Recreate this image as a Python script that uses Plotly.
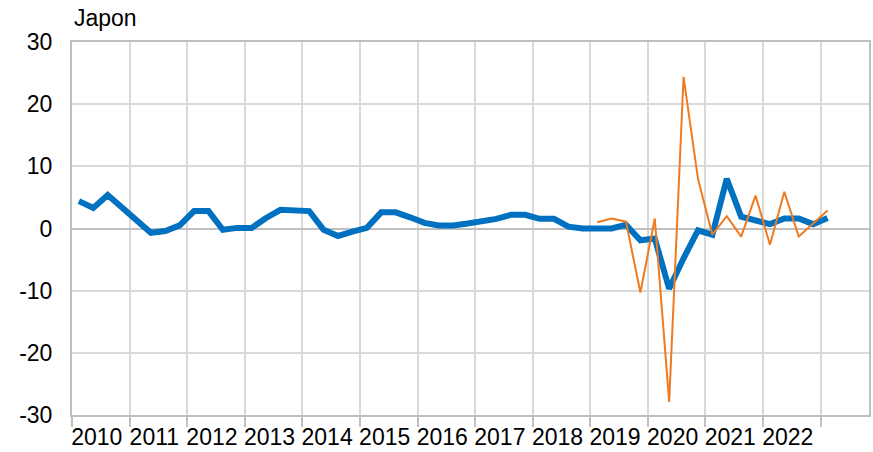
import plotly.graph_objects as go

years = list(range(2010, 2024))
year_labels = [str(y) for y in range(2010, 2023)]
y_ticks = [-30, -20, -10, 0, 10, 20, 30]
y_labels = ["-30", "-20", "-10", "0", "10", "20", "30"]

quarters = [f"{y}Q{q}" for y in range(2010, 2023) for q in range(1, 5)] + ["2023Q1"]

blue_values = [
    4.4, 3.3, 5.4, 3.4,
    1.2, -0.7, -0.4, 0.5,
    2.8, 2.8, -0.2, 0.1,
    0.1, 1.7, 3.0, 3.0,
    2.8, -0.2, -1.2, -0.5,
    0.1, 2.6, 2.6, 1.8,
    0.9, 0.5, 0.5, 0.8,
    1.2, 1.55, 2.2, 2.2,
    1.55, 1.55, 0.3, 0.0,
    0.0, 0.0, 0.6, -1.9,
    -1.6, -9.7, -4.8, -0.3,
    -1.0, 8.0, 1.9, 1.3,
    0.7, 1.6, 1.6, 0.7,
    1.7,
]

orange_quarters = quarters[quarters.index("2019Q1"):]
orange_values = [1.0, 1.6, 1.1, -10.3, 1.6, -27.9, 24.4, 8.0, -1.0,
                 2.0, -1.3, 5.3, -2.6, 5.9, -1.3, 0.8, 2.9]


def qpos(label):
    y, q = label.split("Q")
    return int(y) + (int(q) - 1) / 4 + 0.12


FONT = "Liberation Sans, Arial, sans-serif"
FS = 23
GRID = "#D9D9D9"
AXIS = "#BFBFBF"

fig = go.Figure()
fig.add_trace(go.Scatter(
    x=[qpos(q) for q in quarters], y=blue_values, mode="lines",
    line=dict(color="#0070C0", width=6), showlegend=False, hoverinfo="skip"))
fig.add_trace(go.Scatter(
    x=[qpos(q) for q in orange_quarters], y=orange_values, mode="lines",
    line=dict(color="#EE7B22", width=2), showlegend=False, hoverinfo="skip"))

fig.update_layout(
    width=873, height=452,
    margin=dict(l=72, r=4, t=42, b=37),
    paper_bgcolor="white", plot_bgcolor="white",
    font=dict(family=FONT, size=FS, color="black"),
    xaxis=dict(
        range=[2010, 2023.84], automargin=False,
        tickvals=[y + 0.43 for y in range(2010, 2023)],
        ticktext=year_labels,
        ticks="", showgrid=False, zeroline=False,
        showline=True, linecolor=AXIS, linewidth=2, mirror=True,
        tickfont=dict(size=FS),
        minor=dict(tickvals=years, ticks="outside", ticklen=10, tickcolor=AXIS,
                   tickwidth=2, showgrid=True, gridcolor=GRID, gridwidth=2),
    ),
    yaxis=dict(
        range=[-30, 30], automargin=False,
        tickvals=y_ticks, ticktext=y_labels,
        showgrid=True, gridcolor=GRID, gridwidth=2,
        zeroline=True, zerolinecolor=AXIS, zerolinewidth=2,
        showline=True, linecolor=AXIS, linewidth=2, mirror=True,
        ticks="", tickfont=dict(size=FS), ticklabelstandoff=13,
    ),
    annotations=[dict(text="Japon", xref="paper", yref="paper", x=0, y=1,
                      xanchor="left", yanchor="bottom", yshift=9, showarrow=False,
                      font=dict(size=FS, family=FONT))],
)

fig.write_html("out.html", config={"displayModeBar": False},
               post_script="document.body.style.margin='0';")
